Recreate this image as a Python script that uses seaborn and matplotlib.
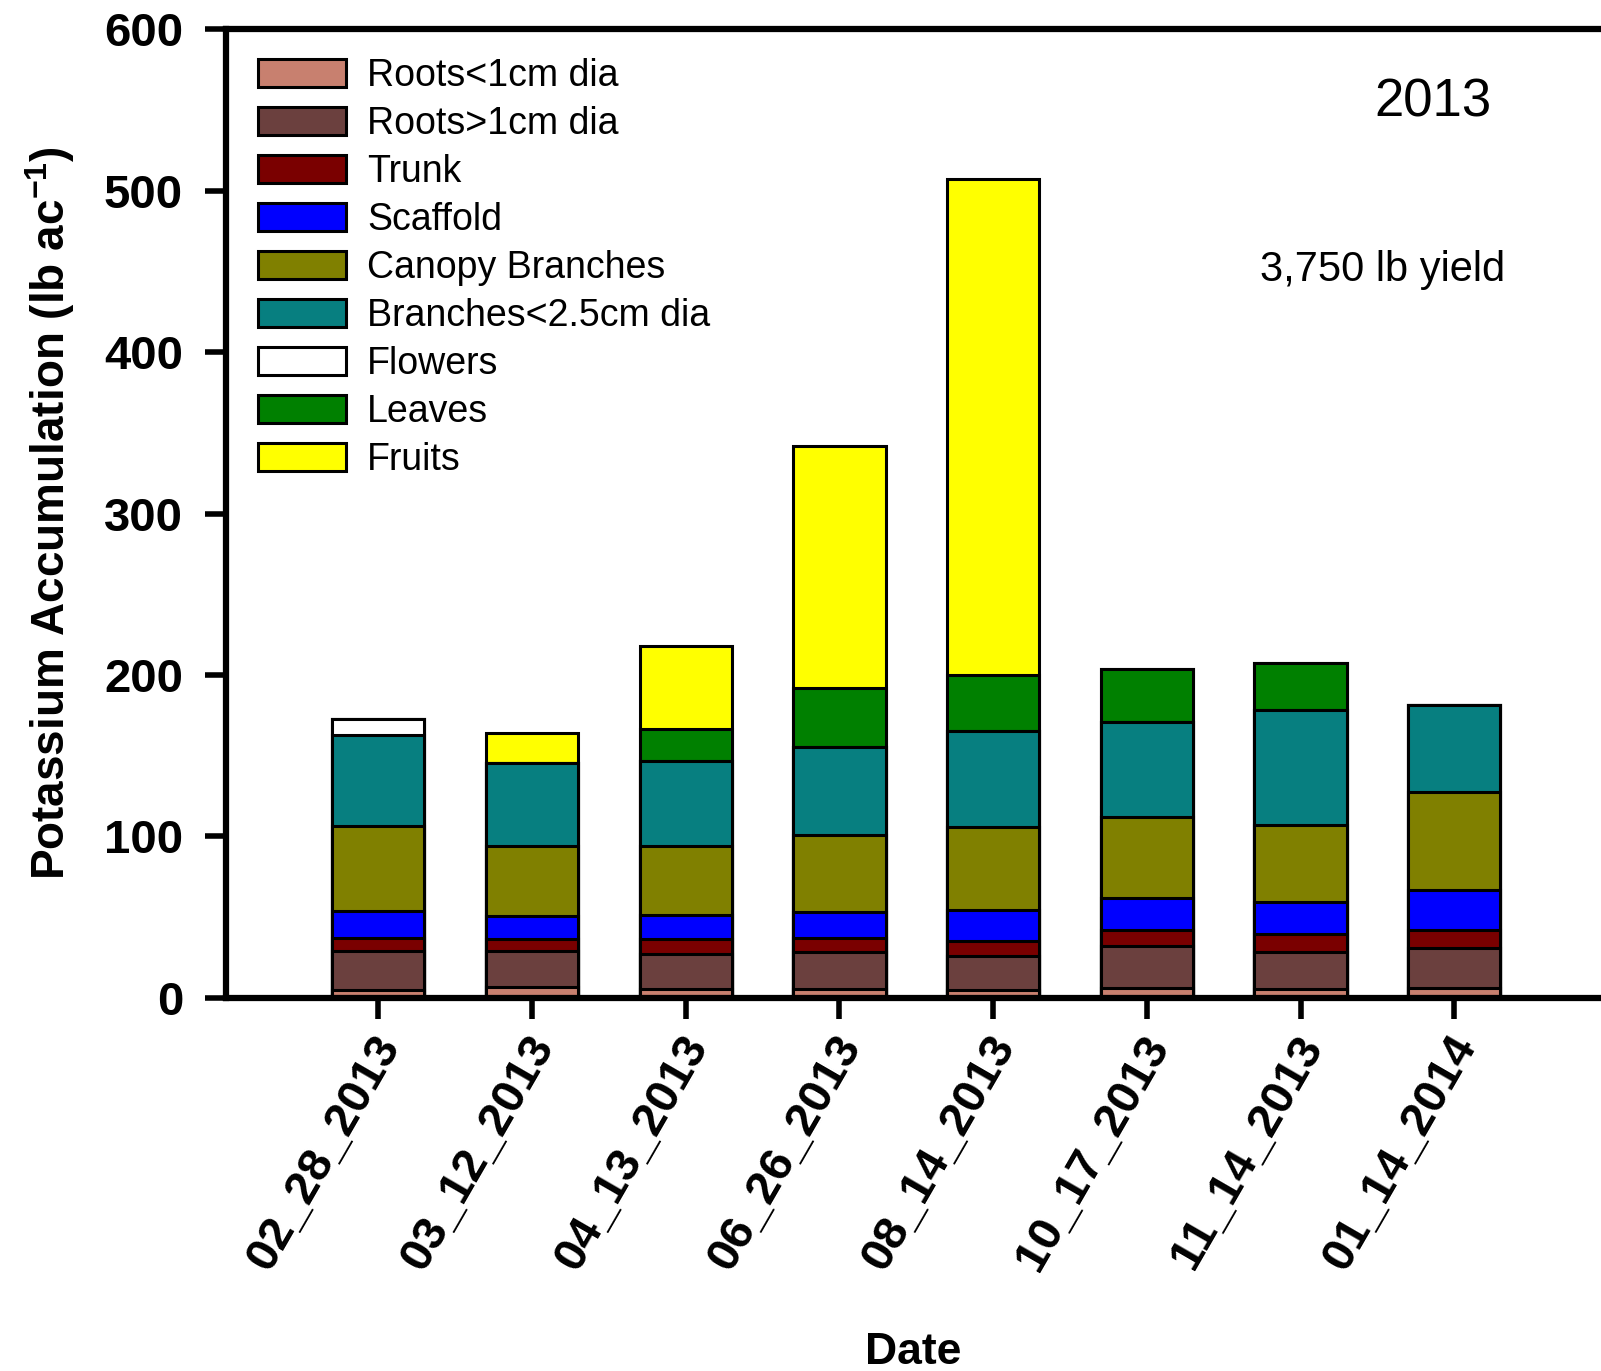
import numpy as np
import matplotlib
matplotlib.use("Agg")
import matplotlib.pyplot as plt
import matplotlib.transforms as mtransforms
from matplotlib.patches import Patch
import seaborn as sns

dates = ["02_28_2013", "03_12_2013", "04_13_2013", "06_26_2013",
         "08_14_2013", "10_17_2013", "11_14_2013", "01_14_2014"]

# potassium per tissue (lb/ac)
roots_small = [5.1, 6.8, 5.8, 5.8, 5.1, 6.1, 5.8, 6.1]
roots_large = [23.8, 22.3, 21.7, 22.7, 20.7, 26.1, 22.7, 25.1]
trunk = [8.2, 7.7, 9.3, 8.6, 9.3, 10.1, 11.4, 11.1]
scaffold = [16.8, 14.2, 14.4, 16.2, 19.2, 19.3, 19.6, 24.4]
canopy = [52.5, 43.2, 42.6, 47.5, 51.7, 50.6, 47.9, 61.0]
branches = [56.4, 51.1, 52.9, 54.8, 59.3, 58.8, 70.9, 53.7]
flowers = [9.9, 0, 0, 0, 0, 0, 0, 0]
leaves = [0, 0, 19.6, 36.2, 34.7, 32.7, 29.0, 0]
fruits = [0, 18.9, 51.5, 150.1, 307.1, 0, 0, 0]

labels = ["Roots<1cm dia", "Roots>1cm dia", "Trunk", "Scaffold", "Canopy Branches",
          "Branches<2.5cm dia", "Flowers", "Leaves", "Fruits"]
colors = ["#C8806F", "#6B403E", "#7A0000", "#0000FF", "#808000",
          "#077F80", "#FFFFFF", "#008000", "#FFFF00"]
layers = [roots_small, roots_large, trunk, scaffold, canopy, branches, flowers, leaves, fruits]

sns.set_style("ticks")
plt.rcParams["font.family"] = ["Liberation Sans", "DejaVu Sans"]
plt.rcParams["text.color"] = "black"
plt.rcParams["axes.labelcolor"] = "black"
plt.rcParams["xtick.color"] = "black"
plt.rcParams["ytick.color"] = "black"
plt.rcParams["axes.edgecolor"] = "black"
plt.rcParams["mathtext.fontset"] = "custom"
plt.rcParams["mathtext.rm"] = "Liberation Sans:bold"

fig = plt.figure(figsize=(16.01, 13.71), dpi=100)
ax = fig.add_axes([0.1412, 0.2721, 0.8588, 0.7067])

# stacked bars: draw cumulative totals from the top layer down
cum = np.cumsum(np.array(layers), axis=0)
for i in range(len(layers) - 1, -1, -1):
    sns.barplot(x=dates, y=cum[i], color=colors[i], saturation=1, width=0.6,
                edgecolor="black", linewidth=2.2, errorbar=None, ax=ax)

ax.set_xlim(-0.991, 7.955)
ax.set_ylim(0, 600)
ax.set_yticks(range(0, 601, 100))
for side in ["left", "bottom", "top"]:
    ax.spines[side].set_linewidth(4.5)
ax.spines["right"].set_visible(False)
ax.tick_params(axis="both", direction="out", length=15, width=4)
ax.tick_params(axis="y", pad=16, labelsize=34)
ax.tick_params(axis="x", pad=7, labelsize=34)
for t in ax.get_yticklabels():
    t.set_fontweight("bold")
shift = mtransforms.ScaledTranslation(-5 / 72, 0, fig.dpi_scale_trans)
for t in ax.get_xticklabels():
    t.set_rotation(60)
    t.set_ha("right")
    t.set_va("top")
    t.set_rotation_mode("anchor")
    t.set_fontweight("bold")
    t.set_transform(t.get_transform() + shift)

ax.set_ylabel(r"Potassium Accumulation (lb ac$^{-1}$)", fontsize=33, fontweight="bold",
              va="center")
ax.yaxis.set_label_coords(-0.128, 0.5)
ax.set_xlabel("Date", fontsize=32, fontweight="bold", va="center")
ax.xaxis.set_label_coords(0.5, -0.366)

ax.text(0.878, 0.910, "2013", transform=ax.transAxes, fontsize=38, ha="center", va="baseline")
ax.text(0.841, 0.740, "3,750 lb yield", transform=ax.transAxes, fontsize=30,
        ha="center", va="baseline")

handles = [Patch(facecolor=c, edgecolor="black", linewidth=2.2) for c in colors]
ax.legend(handles, labels, loc="upper left", bbox_to_anchor=(0.0233, 0.970),
          frameon=False, fontsize=27, borderpad=0, borderaxespad=0,
          handlelength=2.35, handleheight=0.75, handletextpad=0.55, labelspacing=0.32)

fig.savefig("out.png", dpi=100)
